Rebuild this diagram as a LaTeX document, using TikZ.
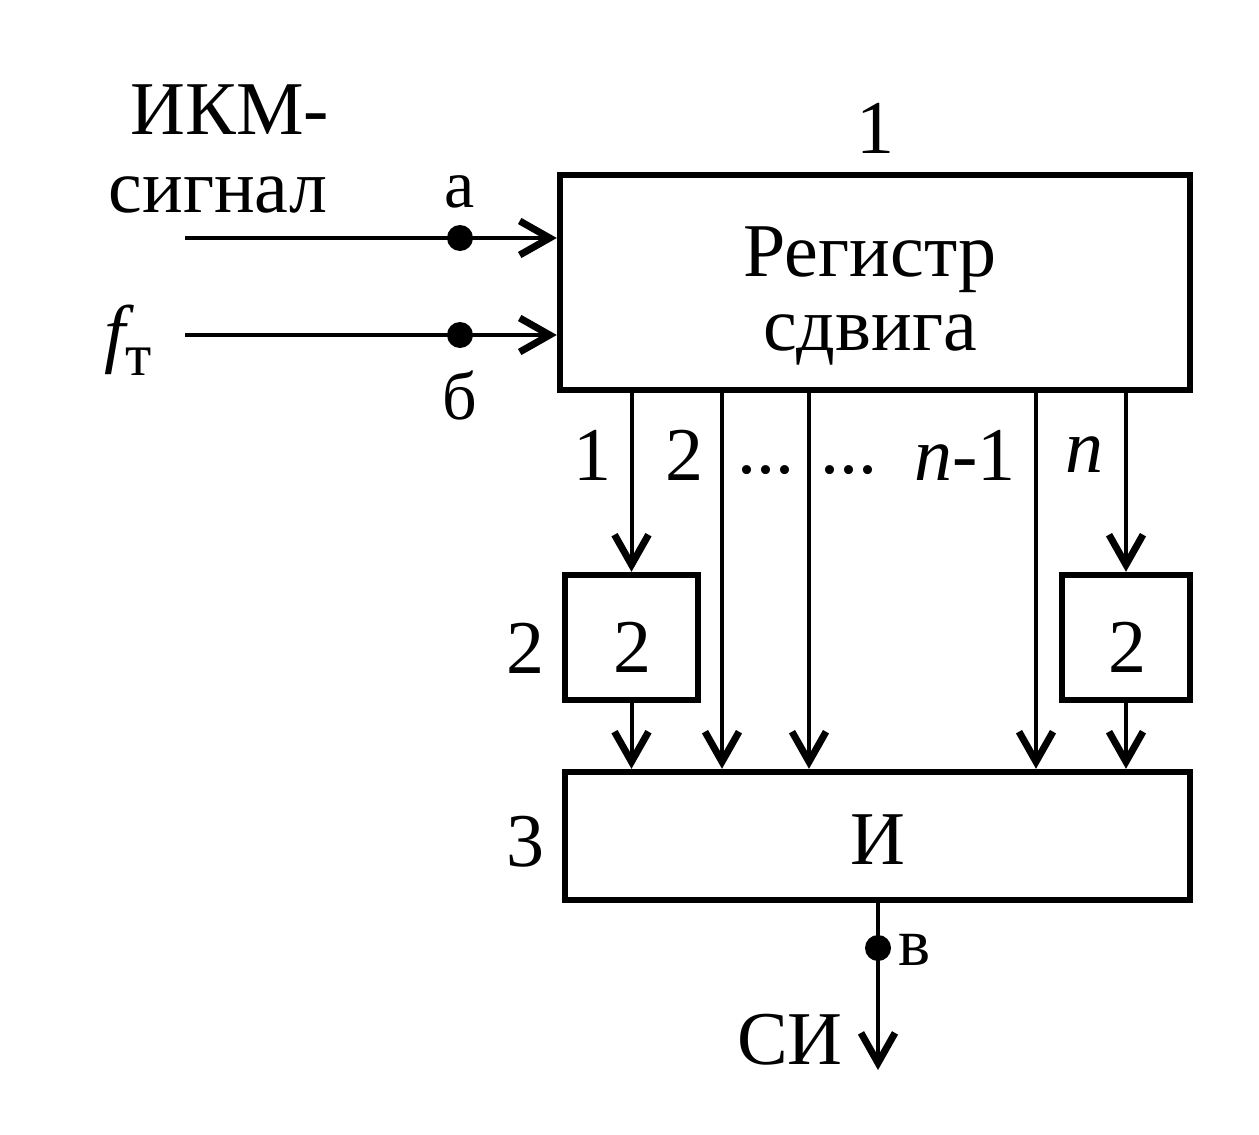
\documentclass[tikz,border=0pt]{standalone}
\usepackage{fontspec}
\setmainfont{Liberation Serif}
\usetikzlibrary{arrows.meta}
\begin{document}
\begin{tikzpicture}[x=0.5pt,y=-0.5pt,
  font=\fontsize{38pt}{44pt}\selectfont,
  box/.style={draw,line width=3.2pt,inner sep=0pt,rectangle},
  conn/.style={line width=2pt,-{Straight Barb[length=15pt,width=17pt,line width=3.5pt]}},
  pin/.style={circle,fill,inner sep=0pt,minimum size=13pt},
  lbl/.style={inner sep=0pt},
  small/.style={inner sep=0pt,font=\fontsize{34pt}{40pt}\selectfont}]
\useasboundingbox (0,0) rectangle (1259,1135);
% boxes
\node[box,minimum width=315pt,minimum height=107.5pt] (reg) at (875,282.5) {};
\node[lbl] (reg1) at (870,260) {Регистр};
\node[lbl] (reg2) at (870,340) {сдвига};
\node[box,minimum width=66.5pt,minimum height=62.5pt] (sb1) at (631.5,637.5) {};
\node[box,minimum width=64pt,minimum height=62.5pt] (sb2) at (1126,637.5) {};
\node[lbl] (t1) at (632,647) {2};
\node[lbl] (t2) at (1127,647) {2};
\node[box,minimum width=312.5pt,minimum height=64pt] (andb) at (877.5,836) {};
\node[lbl] (t3) at (878,840) {И};
% numbers
\node[lbl] (n1) at (875,128) {1};
\node[lbl] (n2) at (525,648) {2};
\node[lbl] (n3) at (525,842) {3};
% inputs
\node[lbl] (ikm1) at (230,110) {ИКМ-};
\node[lbl] (ikm2) at (218,195) {сигнал};
\node[lbl] (ft) at (128,340) {{\itshape f}\raisebox{-0.22em}{\fontsize{30pt}{32pt}\selectfont т}};
\coordinate (ina) at (185,238);
\coordinate (inb) at (185,335);
\draw[conn] (ina) -- (reg.west |- ina);
\draw[conn] (inb) -- (reg.west |- inb);
\node[pin] (pa) at (460,238) {};
\node[pin] (pb) at (460,335) {};
\node[small] (la) at (460,192) {а};
\node[small] (lb) at (460,395) {б};
% outputs of register
\coordinate (c2) at (722,0);
\coordinate (c3) at (809,0);
\coordinate (c4) at (1036,0);
\draw[conn] (reg.south -| sb1.north) -- (sb1.north);
\draw[conn] (reg.south -| sb2.north) -- (sb2.north);
\draw[conn] (reg.south -| c2) -- (andb.north -| c2);
\draw[conn] (reg.south -| c3) -- (andb.north -| c3);
\draw[conn] (reg.south -| c4) -- (andb.north -| c4);
\draw[conn] (sb1.south) -- (andb.north -| sb1.south);
\draw[conn] (sb2.south) -- (andb.north -| sb2.south);
\node[lbl] (o1) at (592,455) {1};
\node[lbl] (o2) at (684,455) {2};
\node[lbl] (o3) at (766,470) {...};
\node[lbl] (o4) at (849,470) {...};
\node[lbl] (o5) at (965,455) {{\itshape n}-1};
\node[lbl] (o6) at (1084,455) {{\itshape n}};
% output
\coordinate (si) at (878,1070);
\draw[conn] (andb.south -| si) -- (si);
\node[pin] (pv) at (878,948) {};
\node[small] (lv) at (915,950) {в};
\node[lbl] (lsi) at (790,1040) {СИ};
\end{tikzpicture}
\end{document}
